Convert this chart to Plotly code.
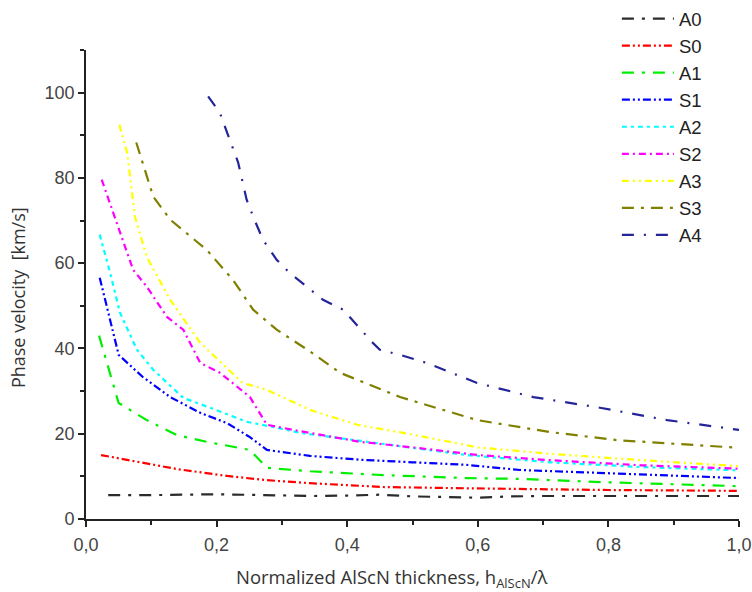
import plotly.graph_objects as go

# ---- data ----
A0_x = [0.034, 0.1, 0.2, 0.25, 0.3, 0.35, 0.4, 0.45, 0.5, 0.55, 0.6, 0.65, 0.7, 0.8, 0.9, 1.0]
A0_y = [5.6, 5.6, 5.8, 5.7, 5.5, 5.4, 5.5, 5.7, 5.3, 5.1, 5.0, 5.3, 5.4, 5.4, 5.4, 5.4]

S0_x = [0.023, 0.14, 0.216, 0.277, 0.343, 0.455, 0.583, 0.665, 0.8, 1.0]
S0_y = [15.0, 11.7, 10.1, 9.1, 8.4, 7.5, 7.2, 7.0, 6.8, 6.6]

A1_x = [0.02, 0.05, 0.093, 0.139, 0.185, 0.225, 0.251, 0.277, 0.343, 0.455, 0.583, 0.665, 0.8, 1.0]
A1_y = [43.0, 27.2, 23.2, 19.7, 18.1, 16.9, 16.2, 12.0, 11.2, 10.3, 9.6, 9.4, 8.6, 7.7]

S1_x = [0.021, 0.05, 0.087, 0.129, 0.175, 0.216, 0.251, 0.277, 0.343, 0.42, 0.5, 0.583, 0.665, 0.8, 1.0]
S1_y = [56.6, 38.5, 33.3, 28.6, 24.9, 22.5, 19.2, 16.2, 14.8, 13.9, 13.3, 12.7, 11.5, 10.7, 9.6]

A2_x = [0.021, 0.037, 0.052, 0.078, 0.103, 0.149, 0.19, 0.246, 0.286, 0.328, 0.455, 0.583, 0.71, 0.85, 1.0]
A2_y = [66.7, 57.7, 48.4, 39.7, 35.0, 28.4, 26.1, 22.8, 21.6, 20.2, 17.6, 15.0, 13.3, 12.2, 11.4]

S2_x = [0.024, 0.052, 0.072, 0.093, 0.124, 0.149, 0.175, 0.205, 0.251, 0.277, 0.317, 0.42, 0.5, 0.6, 0.71, 0.85, 1.0]
S2_y = [79.6, 67.1, 58.5, 54.5, 47.4, 44.4, 36.6, 34.3, 28.6, 22.1, 20.9, 18.1, 16.8, 15.0, 13.8, 12.6, 11.8]

A3_x = [0.051, 0.063, 0.075, 0.093, 0.129, 0.175, 0.24, 0.277, 0.343, 0.415, 0.5, 0.6, 0.71, 0.85, 1.0]
A3_y = [92.5, 85.9, 70.9, 61.5, 51.4, 41.3, 31.9, 30.3, 25.6, 22.1, 19.8, 16.8, 15.3, 13.8, 12.4]

S3_x = [0.077, 0.103, 0.129, 0.185, 0.225, 0.256, 0.292, 0.343, 0.389, 0.481, 0.599, 0.71, 0.813, 1.0]
S3_y = [88.3, 75.6, 70.2, 63.1, 56.1, 49.1, 44.4, 39.3, 34.3, 28.6, 23.2, 20.4, 18.5, 16.7]

A4_x = [0.187, 0.205, 0.22, 0.233, 0.246, 0.256, 0.271, 0.292, 0.312, 0.338, 0.363, 0.394, 0.417,
        0.438, 0.45, 0.481, 0.522, 0.599, 0.685, 0.787, 0.89, 1.0]
A4_y = [99.1, 95.3, 89.0, 83.6, 74.9, 70.9, 65.5, 60.8, 57.7, 54.5, 51.4, 49.1, 45.1,
        41.5, 39.7, 38.5, 36.6, 31.9, 28.6, 26.1, 23.2, 20.9]

names = ["A0", "S0", "A1", "S1", "A2", "S2", "A3", "S3", "A4"]
xs = [A0_x, S0_x, A1_x, S1_x, A2_x, S2_x, A3_x, S3_x, A4_x]
ys = [A0_y, S0_y, A1_y, S1_y, A2_y, S2_y, A3_y, S3_y, A4_y]

x_ticks = [0.0, 0.2, 0.4, 0.6, 0.8, 1.0]
y_ticks = [0, 20, 40, 60, 80, 100]

x_title = "Normalized AlScN thickness, h<sub>AlScN</sub>/λ"
y_title = "Phase velocity\u00a0 [km/s]"

# ---- styles ----
colors = ["#2b2b2b", "#ff0000", "#00ee00", "#0000ff", "#00ffff", "#ff00ff", "#ffff00", "#808000", "#25259a"]
dashes = [
    "12px,8px,3px,8px",
    "8px,3px,2px,3px,2px,3px",
    "12px,8px,3px,8px",
    "8px,3px,2px,3px,2px,3px",
    "5px,4px,3px,4px",
    "7px,4px,2px,4px",
    "7px,4px,2px,4px,2px,4px",
    "12px,7px,3px,7px",
    "12px,10px,2px,10px",
]

fig = go.Figure()
for n, x, y, c, d in zip(names, xs, ys, colors, dashes):
    fig.add_trace(go.Scatter(x=x, y=y, name=n, mode="lines",
                             line=dict(color=c, width=2.2, dash=d)))

axis_common = dict(
    showgrid=False, zeroline=False, showline=True, linecolor="#222", linewidth=1.6,
    ticks="outside", ticklen=6, tickwidth=1.6, tickcolor="#222",
    mirror=False, automargin=False,
    tickfont=dict(family="Liberation Sans, Arial", size=18, color="#444"),
)

W, H = 752, 592
L, R, T, B = 86, 13, 0, 73
plot_h = H - T - B
Y_TOP = (plot_h - 50) / plot_h  # y-axis top at 50px; legend sits inside paper above it

fig.update_layout(
    width=W, height=H,
    margin=dict(l=L, r=R, t=T, b=B),
    paper_bgcolor="white", plot_bgcolor="white",
    separators=",.",
    showlegend=True,
    legend=dict(x=0.813, y=1.0, xanchor="left", yanchor="top",
                font=dict(family="Liberation Sans, Arial", size=18.5, color="#222"),
                bgcolor="rgba(0,0,0,0)", tracegroupgap=0, itemwidth=52),
    xaxis=dict(range=[0, 1.0], tickvals=x_ticks, tickformat=".1f", ticklabelstandoff=3,
               minor=dict(ticks="outside", ticklen=4, tickwidth=1.6, tickcolor="#222", dtick=0.1),
               **axis_common),
    yaxis=dict(range=[0, 110], tickvals=y_ticks, domain=[0, Y_TOP],
               minor=dict(ticks="outside", ticklen=4, tickwidth=1.6, tickcolor="#222", dtick=10),
               **axis_common),
    annotations=[
        dict(text=x_title, xref="paper", yref="paper", x=0.4686, y=-0.1136,
             xanchor="center", yanchor="middle", showarrow=False,
             font=dict(family="Open Sans, Noto Sans", size=18.5, color="#333")),
        dict(text=y_title, xref="paper", yref="paper", x=-0.104, y=(plot_h - 298) / plot_h,
             xanchor="center", yanchor="middle", showarrow=False, textangle=-90,
             font=dict(family="Open Sans, Noto Sans", size=18, color="#333")),
    ],
)

# remove the page's default body margin so the figure fills the 752x592 window exactly
fig.write_html("out.html",
               config={"displayModeBar": False},
               post_script="document.body.style.margin='0px';document.body.style.overflow='hidden';")
